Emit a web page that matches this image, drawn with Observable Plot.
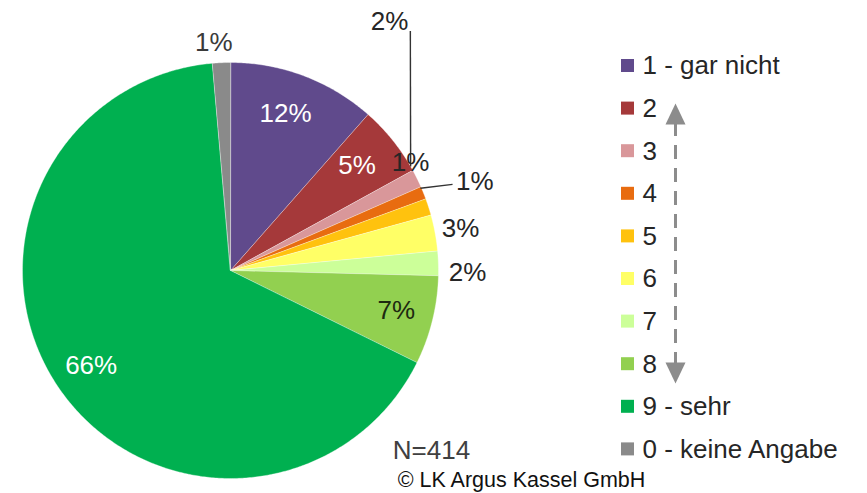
<!DOCTYPE html>
<html><head><meta charset="utf-8">
<script src="https://cdn.jsdelivr.net/npm/d3@7"></script>
<script src="https://cdn.jsdelivr.net/npm/@observablehq/plot@0.6"></script>
<style>body{margin:0;background:#fff}</style>
</head><body><div id="chart"></div>
<script>
// ---- data ----
const categories = ["1 - gar nicht", "2", "3", "4", "5", "6", "7", "8", "9 - sehr", "0 - keine Angabe"];
const values = [11.5, 5.5, 1.4, 1.0, 1.3, 2.8, 1.9, 6.9, 66.3, 1.4];
const labels = ["12%", "5%", "2%", "1%", "1%", "3%", "2%", "7%", "66%", "1%"];
const colors = ["#604a8c", "#a5393a", "#d9979a", "#e86c10", "#ffc20e", "#ffff66", "#ccff99", "#92d050", "#00b050", "#8a8a8a"];
const note = "N=414";
const credit = "© LK Argus Kassel GmbH";

// ---- layout ----
const W = 867, H = 493, CX = 230, CY = 270, R = 208;
const polar = (deg, k) => [CX + k * R * Math.sin(deg * Math.PI / 180), CY - k * R * Math.cos(deg * Math.PI / 180)];
const labelPolar = [[19.3, 0.80], [50.4, 0.79], [32.6, 1.42], [59.0, 1.01], [70.0, 1.25], [79.6, 1.125], [90.5, 1.14], [103.6, 0.82], [235.8, 0.81], [355.8, 1.10]];
const labelFill = ["white", "white", "#262626", "#262626", "#262626", "#262626", "#262626", "#1d2a10", "white", "#3a3a3a"];
const leaders = [[[36.9, 1.44], [60.0, 1.0]], [[66.6, 0.995], [68.8, 1.145]]];
const LX = 621, LS = 13, LTX = 642, LY0 = 65.5, LDY = 42.6;
const AX = 675, A1 = 103, A2 = 383, AH = 21, AW = 10;
const font = "'Liberation Sans', Arial, sans-serif";

// pie geometry from values
const arcs = d3.pie().sort(null).value(d => d)(values);
const pts = [];
arcs.forEach((a, i) => {
  pts.push({k: i, x: CX, y: CY, c: colors[i]});
  const n = Math.max(4, Math.ceil((a.endAngle - a.startAngle) * 180 / Math.PI * 2));
  for (let j = 0; j <= n; j++) {
    const t = a.startAngle + (a.endAngle - a.startAngle) * j / n;
    pts.push({k: i, x: CX + R * Math.sin(t), y: CY - R * Math.cos(t), c: colors[i]});
  }
});
const lab = labels.map((t, i) => { const [x, y] = polar(...labelPolar[i]); return {t, x, y, c: labelFill[i]}; });
const lead = leaders.map(([p, q]) => { const [x1, y1] = polar(...p); const [x2, y2] = polar(...q); return {x1, y1, x2, y2}; });
const heads = [
  {k: 0, x: AX, y: A1}, {k: 0, x: AX - AW, y: A1 + AH}, {k: 0, x: AX + AW, y: A1 + AH},
  {k: 1, x: AX, y: A2}, {k: 1, x: AX - AW, y: A2 - AH}, {k: 1, x: AX + AW, y: A2 - AH}
];

const chart = Plot.plot({
  width: W, height: H, margin: 0,
  x: {domain: [0, W], range: [0, W], axis: null},
  y: {domain: [0, H], range: [0, H], axis: null},
  color: {type: "identity"},
  style: {fontFamily: font, background: "white"},
  marks: [
    Plot.line(pts, {x: "x", y: "y", z: "k", fill: "c", stroke: "white", strokeWidth: 0.35, curve: "linear-closed"}),
    Plot.link(lead, {x1: "x1", y1: "y1", x2: "x2", y2: "y2", stroke: "#333", strokeWidth: 1.4}),
    Plot.text(lab, {x: "x", y: "y", text: "t", fill: "c", fontSize: 26, textAnchor: "middle", lineAnchor: "middle"}),
    Plot.rect(categories, {x1: () => LX, x2: () => LX + LS, y1: (d, i) => LY0 + i * LDY - LS / 2, y2: (d, i) => LY0 + i * LDY + LS / 2, fill: (d, i) => colors[i]}),
    Plot.text(categories, {x: () => LTX, y: (d, i) => LY0 + i * LDY, text: d => d, fill: "#262626", fontSize: 26, textAnchor: "start", lineAnchor: "middle"}),
    Plot.ruleX([AX], {y1: A1 + AH - 2, y2: A2 - AH + 2, stroke: "#8c8c8c", strokeWidth: 3, strokeDasharray: "14,9"}),
    Plot.line(heads, {x: "x", y: "y", z: "k", fill: "#8c8c8c", stroke: "none", curve: "linear-closed"}),
    Plot.text([note], {x: () => 431, y: () => 450, text: d => d, fill: "#404040", fontSize: 26, textAnchor: "middle", lineAnchor: "middle"}),
    Plot.text([credit], {x: () => 521, y: () => 480, text: d => d, fill: "#111", fontSize: 21.5, textAnchor: "middle", lineAnchor: "middle"})
  ]
});
document.getElementById("chart").appendChild(chart);
</script>
</body></html>
